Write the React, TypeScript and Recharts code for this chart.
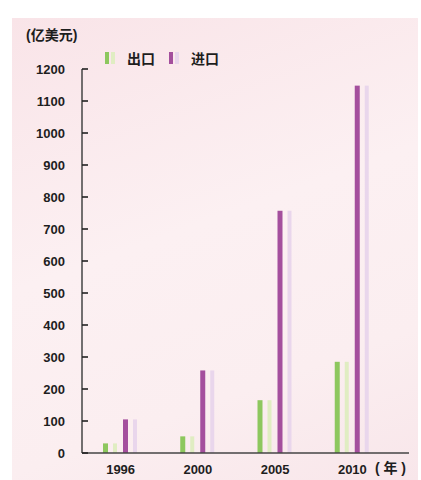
import React from 'react';
import { BarChart, Bar, XAxis, YAxis, Legend } from 'recharts';

const years = ['1996', '2000', '2005', '2010'];
const exportValues = [30, 52, 165, 285];
const importValues = [105, 258, 757, 1148];
const yTicks = [0, 100, 200, 300, 400, 500, 600, 700, 800, 900, 1000, 1100, 1200];

const seriesInfo = [
  { key: 'export', name: '出口', color: '#8dc75e', shade: '#e0edc2' },
  { key: 'import', name: '进口', color: '#a44f9d', shade: '#e9d6ec' },
];

const data = years.map((year, i) => ({
  year,
  export: exportValues[i],
  import: importValues[i],
}));

const FONT = "'Liberation Sans', Arial, 'Noto Sans CJK SC', sans-serif";
const TEXT = '#1e1e1e';

// main bar + paler "shadow" strip beside it
const makeShape = (color: string, shade: string) => (props: any) => {
  const x = Number(props.x);
  const y = Number(props.y);
  const height = Number(props.height);
  if (!height || height <= 0) return <g />;
  return (
    <g>
      <rect x={x} y={y} width={5} height={height} fill={color} />
      <rect x={x + 10} y={y} width={4} height={height} fill={shade} />
    </g>
  );
};

// tickSize 0 + tickMargin 17 -> the axis line sits at x + 17, tick points inward
const YTick = (props: any) => {
  const x = Number(props.x);
  const y = Number(props.y);
  return (
    <g>
      <line x1={x + 17} x2={x + 23} y1={y} y2={y} stroke="#222" strokeWidth={1.6} />
      <text x={x} y={y} dy={4.5} textAnchor="end" fontSize={13} fontWeight={700} fill={TEXT} fontFamily={FONT}>
        {props.payload.value}
      </text>
    </g>
  );
};

const YearUnit = (props: any) => {
  const vb = props.viewBox || {};
  return (
    <text
      x={Number(vb.x) + Number(vb.width) - 3}
      y={Number(vb.y) + 20}
      textAnchor="end"
      fontSize={14}
      fontWeight={700}
      fill={TEXT}
      fontFamily={FONT}
    >
      ( 年 )
    </text>
  );
};

const LegendBox = () => (
  <div style={{ display: 'flex', alignItems: 'center', fontFamily: FONT, fontSize: 14, fontWeight: 700, color: TEXT }}>
    {seriesInfo.map((s) => (
      <div key={s.key} style={{ display: 'flex', alignItems: 'center', marginRight: 14 }}>
        <span style={{ display: 'inline-block', width: 4, height: 12, background: s.color }} />
        <span style={{ display: 'inline-block', width: 4, height: 12, background: s.shade, marginLeft: 2 }} />
        <span style={{ marginLeft: 12 }}>{s.name}</span>
      </div>
    ))}
  </div>
);

export default function App() {
  return (
    <div style={{ position: 'absolute', left: 0, top: 0, width: 421, height: 480, background: '#ffffff', overflow: 'hidden' }}>
      <div
        style={{
          position: 'absolute',
          left: 12,
          top: 18,
          width: 406,
          height: 462,
          background: 'linear-gradient(160deg, #f9e4e8 0%, #fcf0f2 45%, #fbeef0 75%, #f8e6ea 100%)',
        }}
      />
      <div style={{ position: 'absolute', left: 26, top: 24, fontFamily: FONT, fontSize: 14, fontWeight: 700, color: TEXT }}>
        (亿美元)
      </div>
      <div style={{ position: 'absolute', left: -2, top: 0 }}>
        <BarChart
          width={421}
          height={480}
          data={data}
          margin={{ top: 49, right: 10, left: 0, bottom: 7 }}
          barGap={5}
        >
          <XAxis
            dataKey="year"
            height={20}
            padding={{ left: 0, right: 18 }}
            axisLine={{ stroke: '#444', strokeWidth: 1.5 }}
            tickLine={false}
            tickMargin={6}
            tick={{ fontSize: 13, fontWeight: 700, fill: TEXT, fontFamily: FONT }}
            label={<YearUnit />}
          />
          <YAxis
            width={84}
            domain={[0, 1200]}
            ticks={yTicks}
            interval={0}
            tickSize={0}
            tickMargin={17}
            tickLine={false}
            axisLine={{ stroke: '#444', strokeWidth: 1.5 }}
            tick={<YTick />}
          />
          <Legend
            verticalAlign="top"
            align="left"
            content={<LegendBox />}
            wrapperStyle={{ left: 107, top: 48, width: 200 }}
          />
          {seriesInfo.map((s) => (
            <Bar
              key={s.key}
              dataKey={s.key}
              name={s.name}
              fill={s.color}
              barSize={15}
              shape={makeShape(s.color, s.shade)}
              isAnimationActive={false}
            />
          ))}
        </BarChart>
      </div>
    </div>
  );
}
